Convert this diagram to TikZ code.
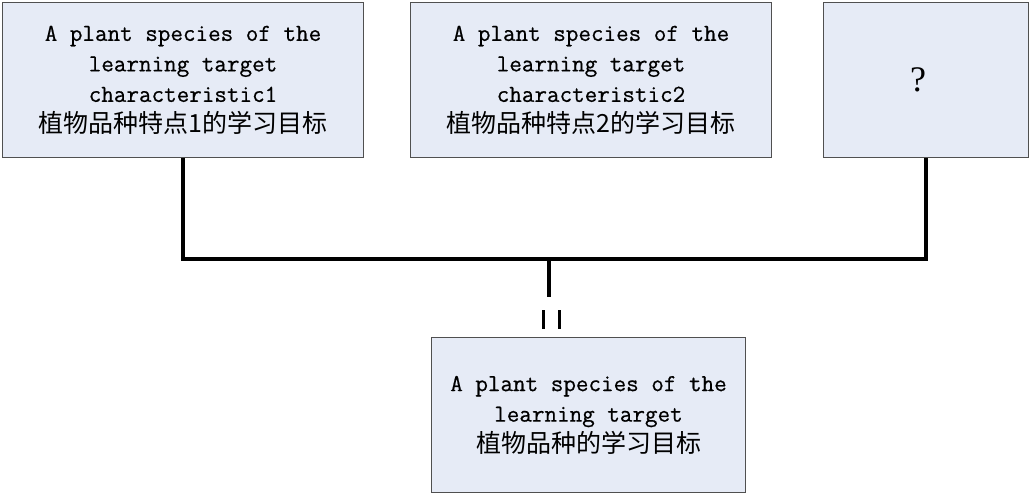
\documentclass[tikz,border=0pt]{standalone}
\usepackage{fontspec}
\newfontfamily\lmono[FakeBold=0.6]{Latin Modern Mono}
\newfontfamily\cjk{Noto Sans CJK SC}
\newfontfamily\qfont{Liberation Serif}
\definecolor{boxfill}{RGB}{230,235,246}
\definecolor{boxline}{RGB}{80,80,80}
\begin{document}
\begin{tikzpicture}[x=1pt,y=-1pt,
  box/.style={draw=boxline, line width=1pt, fill=boxfill, anchor=north west,
    inner sep=0pt, align=center, font=\lmono\fontsize{24.4}{30.5}\selectfont},
  conn/.style={line width=4pt, black},
  bar/.style={line width=3pt, black}]
\useasboundingbox (0,0) rectangle (1033,497);
\node[box, minimum width=361pt, minimum height=155pt] (b1) at (2,2)
  {A plant species of the\\learning target\\characteristic1\\{\cjk\fontsize{25}{30.5}\selectfont 植物品种特点1的学习目标}};
\node[box, minimum width=361pt, minimum height=155pt] (b2) at (410,2)
  {A plant species of the\\learning target\\characteristic2\\{\cjk\fontsize{25}{30.5}\selectfont 植物品种特点2的学习目标}};
\node[box, minimum width=205pt, minimum height=155pt] (b3) at (823,2)
  {{\qfont\fontsize{36}{40}\selectfont ?\hspace{16pt}}};
\node[box, minimum width=314pt, minimum height=155pt] (b4) at (431,337)
  {A plant species of the\\learning target\\{\cjk\fontsize{25}{30.5}\selectfont 植物品种的学习目标}};
\coordinate (j) at (549,259);
\coordinate (e) at (549,297);
\draw[conn] (b1.south) |- (j) -| (b3.south);
\draw[conn] (j) -- (e);
\coordinate (q1) at (543.5,310);
\coordinate (q2) at (543.5,329);
\coordinate (q3) at (559,310);
\coordinate (q4) at (559,329);
\draw[bar] (q1) -- (q2);
\draw[bar] (q3) -- (q4);
\end{tikzpicture}
\end{document}
